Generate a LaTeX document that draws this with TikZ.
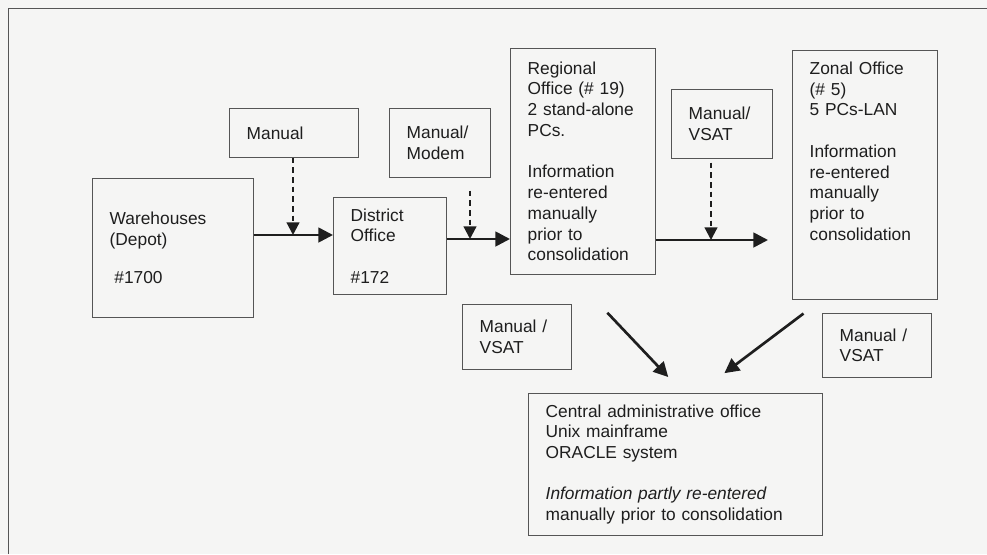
\documentclass[tikz,border=0pt]{standalone}
\usepackage{fontspec}
\setmainfont{Liberation Sans}
\usepackage{tikz}
\usetikzlibrary{arrows.meta}
\definecolor{paper}{RGB}{245, 245, 244}
\definecolor{inkline}{RGB}{85, 85, 85}
\definecolor{inkdark}{RGB}{30, 30, 30}

\begin{document}
\begin{tikzpicture}[
  x=0.03cm, y=-0.03cm,
  every node/.style={font=\fontsize{14.8pt}{17.7pt}\selectfont, text=inkdark},
  box/.style={draw=inkline, line width=0.6pt, anchor=north west, align=left, inner xsep=0.52cm, inner ysep=0.1cm},
  flow/.style={-{Triangle[length=0.44cm, width=0.44cm]}, line width=0.08cm, color=inkdark},
  feed/.style={-{Triangle[length=0.38cm, width=0.38cm]}, line width=0.065cm, dash pattern=on 0.17cm off 0.12cm, color=inkdark},
  frame/.style={draw=inkline, line width=0.7pt}
]

  \fill[paper] (0,0) rectangle (987,554);
  \useasboundingbox (0,0) rectangle (987,554);
  \draw[frame] (8,554) -- (8,8) -- (987,8);

  \node[box, minimum width=4.83cm, minimum height=4.17cm, text width=3.79cm] (wh) at (92,178) {Warehouses\\(Depot)\\[15pt]\hspace{4pt}\#1700};
  \node[box, minimum width=3.39cm, minimum height=2.91cm, text width=2.35cm] (dist) at (333,197) {District\\Office\\[\baselineskip]\#172};
  \node[box, minimum width=3.87cm, minimum height=1.47cm, text width=2.83cm] (man) at (229,108) {Manual};
  \node[box, minimum width=3.03cm, minimum height=2.07cm, text width=1.99cm] (mod) at (389,108) {Manual/\\Modem};
  \node[box, minimum width=4.35cm, minimum height=6.78cm, text width=3.31cm] (reg) at (510,48) {Regional\\Office (\# 19)\\2 stand-alone\\PCs.\\[\baselineskip]Information\\re-entered\\manually\\prior to\\consolidation};
  \node[box, minimum width=3.03cm, minimum height=2.07cm, text width=1.99cm] (vs1) at (671,89) {Manual/\\VSAT};
  \node[box, minimum width=4.35cm, text width=3.31cm, inner ysep=0.12cm, text height=0.6cm, text depth=6.63cm] (zon) at (792,50) {Zonal Office\\(\# 5)\\5 PCs-LAN\\[\baselineskip]Information\\re-entered\\manually\\prior to\\consolidation};
  \node[box, minimum width=3.27cm, minimum height=1.95cm, text width=2.23cm] (vs2) at (462,304) {Manual /\\VSAT};
  \node[box, minimum width=3.27cm, minimum height=1.92cm, text width=2.23cm] (vs3) at (822,313) {Manual /\\VSAT};
  \node[box, minimum width=8.82cm, minimum height=4.26cm, text width=7.78cm] (cen) at (528,393) {Central administrative office\\Unix mainframe\\ORACLE system\\[\baselineskip]\textit{Information partly re-entered}\\manually prior to consolidation};

  % where the dashed feeds meet the main line
  \coordinate (j1) at (293,235);
  \coordinate (j2) at (470,239);
  \coordinate (j3) at (711,240);

  \draw[flow] (wh.east |- j1) -- (dist.west |- j1);
  \draw[flow] (dist.east |- j2) -- (reg.west |- j2);
  \draw[flow, shorten >=0.72cm] (reg.east |- j3) -- (zon.west |- j3);

  \draw[feed] (man.south -| j1) -- (j1);
  \draw[feed, shorten <=0.39cm] (mod.south -| j2) -- (j2);
  \draw[feed, shorten <=0.12cm] (vs1.south -| j3) -- (j3);

  \draw[flow, shorten <=1.57cm, shorten >=0.66cm] ([xshift=-0.345cm]reg.south) -- ([xshift=0.24cm]cen.north);
  \draw[flow, shorten <=0.69cm, shorten >=0.99cm] ([xshift=-1.29cm]zon.south) -- ([xshift=0.68cm]cen.north);

\end{tikzpicture}
\end{document}
